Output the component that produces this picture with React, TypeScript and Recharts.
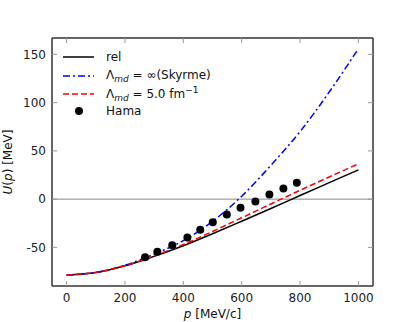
import {
  ComposedChart,
  Line,
  Scatter,
  XAxis,
  YAxis,
  ReferenceLine,
  ReferenceArea,
} from "recharts";

// momentum grid [MeV/c] and potentials [MeV]
const P = [0, 100, 200, 300, 400, 500, 600, 700, 800, 900, 1000];
const REL = [-78.6, -76.1, -69.1, -59.3, -48.3, -35.9, -22.9, -9.7, 3.8, 17.1, 30.4];
const SKYRME = [-78.6, -76.0, -68.5, -57.0, -43.0, -23.0, 3.0, 35.0, 70.0, 111.0, 156.0];
const MD5 = [-78.6, -76.0, -68.9, -58.8, -47.0, -33.5, -19.3, -5.0, 9.2, 23.0, 36.6];

// Hama data points
const HAMA_P = [269, 311, 362, 414, 458, 501, 549, 596, 647, 695, 743, 789];
const HAMA_U = [-60.2, -54.4, -47.7, -39.8, -31.8, -23.9, -16.0, -9.0, -2.5, 4.8, 11.0, 16.9];

const X_TICKS = [0, 200, 400, 600, 800, 1000];
const Y_TICKS = [-50, 0, 50, 100, 150];

const FONT = "'DejaVu Sans', sans-serif";

const toRows = (ys: number[]) => P.map((p, i) => ({ p, u: ys[i] }));
const relData = toRows(REL);
const skyrmeData = toRows(SKYRME);
const md5Data = toRows(MD5);
const hamaData = HAMA_P.map((p, i) => ({ p, u: HAMA_U[i] }));

const tickStyle = { fontSize: 12, fill: "#222", fontFamily: FONT };
const blank = () => "";

function LegendBox() {
  const row = (top: number): React.CSSProperties => ({
    position: "absolute",
    left: 0,
    top,
    display: "flex",
    alignItems: "center",
    height: 16,
    whiteSpace: "nowrap",
  });
  const sample = (dash: string | undefined, color: string) => (
    <svg width={31} height={8} style={{ marginRight: 12 }}>
      <line x1={0} y1={4} x2={31} y2={4} stroke={color} strokeWidth={1.5} strokeDasharray={dash} />
    </svg>
  );
  const sub = { fontSize: 9, fontStyle: "italic", verticalAlign: "-3px" } as React.CSSProperties;
  return (
    <div
      style={{
        position: "absolute",
        left: 63,
        top: 49,
        fontFamily: FONT,
        fontSize: 12,
        color: "#111",
      }}
    >
      <div style={row(0)}>
        {sample(undefined, "#000")}
        <span>rel</span>
      </div>
      <div style={row(18.5)}>
        {sample("7 3 2 3", "#0000ff")}
        <span>
          Λ<span style={sub}>md</span> = ∞(Skyrme)
        </span>
      </div>
      <div style={row(37)}>
        {sample("6 3", "#ff0000")}
        <span>
          Λ<span style={sub}>md</span> = 5.0 fm
          <span style={{ fontSize: 9, verticalAlign: "5px" }}>−1</span>
        </span>
      </div>
      <div style={row(54)}>
        <svg width={31} height={10} style={{ marginRight: 12 }}>
          <circle cx={16} cy={5} r={4} fill="#000" />
        </svg>
        <span>Hama</span>
      </div>
    </div>
  );
}

export default function App() {
  return (
    <div
      style={{
        position: "absolute",
        left: 0,
        top: 0,
        width: 415,
        height: 322,
        background: "#fff",
      }}
    >
      <ComposedChart
        width={415}
        height={322}
        margin={{ top: 37, right: 41, bottom: 0, left: 0 }}
      >
        <XAxis
          xAxisId="b"
          dataKey="p"
          type="number"
          domain={[-50, 1050]}
          ticks={X_TICKS}
          allowDataOverflow
          height={36}
          stroke="#333"
          tickSize={-5}
          tickMargin={12}
          tickLine={{ stroke: "#999" }}
          tick={tickStyle}
          label={(props: any) => {
            const vb = props.viewBox;
            return (
              <text
                x={vb.x + vb.width / 2}
                y={318}
                textAnchor="middle"
                fontSize={12}
                fontFamily={FONT}
                fill="#111"
              >
                <tspan fontStyle="italic">p</tspan> [MeV/c]
              </text>
            );
          }}
        />
        <XAxis
          xAxisId="t"
          orientation="top"
          dataKey="p"
          type="number"
          domain={[-50, 1050]}
          ticks={X_TICKS}
          allowDataOverflow
          height={1}
          stroke="#333"
          tickSize={-5}
          tickLine={{ stroke: "#999" }}
          tickFormatter={blank}
        />
        <YAxis
          yAxisId="l"
          type="number"
          domain={[-90, 167]}
          ticks={Y_TICKS}
          allowDataOverflow
          width={52}
          stroke="#333"
          tickSize={-5}
          tickMargin={11}
          tickLine={{ stroke: "#999" }}
          tick={tickStyle}
          label={() => (
            <text
              x={12}
              y={162}
              transform="rotate(-90 12 162)"
              textAnchor="middle"
              fontSize={12}
              fontFamily={FONT}
              fill="#111"
            >
              <tspan fontStyle="italic">U</tspan>(<tspan fontStyle="italic">p</tspan>) [MeV]
            </text>
          )}
        />
        <YAxis
          yAxisId="r"
          orientation="right"
          type="number"
          domain={[-90, 167]}
          ticks={Y_TICKS}
          allowDataOverflow
          width={1}
          stroke="#333"
          tickSize={-5}
          tickLine={{ stroke: "#999" }}
          tickFormatter={blank}
        />
        <ReferenceArea
          xAxisId="b"
          yAxisId="l"
          x1={-50}
          x2={1050}
          y1={-90}
          y2={167}
          fill="none"
          stroke="#333"
          strokeWidth={1}
          ifOverflow="visible"
        />
        <ReferenceLine xAxisId="b" yAxisId="l" y={0} stroke="#888" strokeWidth={1} />
        <Line
          xAxisId="b"
          yAxisId="l"
          data={relData}
          dataKey="u"
          type="monotone"
          stroke="#000"
          strokeWidth={1.5}
          dot={false}
          isAnimationActive={false}
        />
        <Line
          xAxisId="b"
          yAxisId="l"
          data={skyrmeData}
          dataKey="u"
          type="monotone"
          stroke="#0000ff"
          strokeWidth={1.5}
          strokeDasharray="7 3 2 3"
          dot={false}
          isAnimationActive={false}
        />
        <Line
          xAxisId="b"
          yAxisId="l"
          data={md5Data}
          dataKey="u"
          type="monotone"
          stroke="#ff0000"
          strokeWidth={1.5}
          strokeDasharray="6 3"
          dot={false}
          isAnimationActive={false}
        />
        <Scatter
          xAxisId="b"
          yAxisId="l"
          data={hamaData}
          dataKey="u"
          fill="#000"
          shape={(props: any) => <circle cx={props.cx} cy={props.cy} r={4} fill="#000" />}
          isAnimationActive={false}
        />
      </ComposedChart>
      <LegendBox />
    </div>
  );
}
